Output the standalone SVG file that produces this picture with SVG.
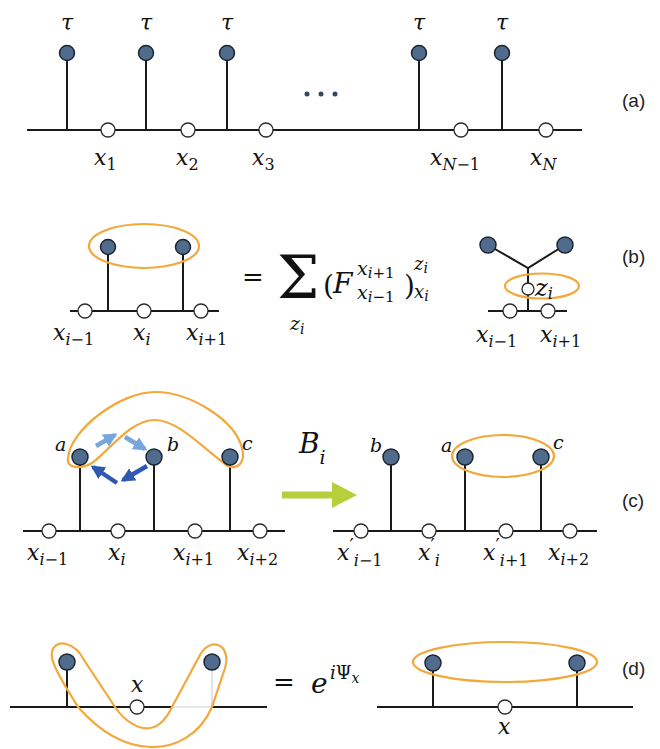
<svg xmlns="http://www.w3.org/2000/svg" width="660" height="749" viewBox="0 0 660 749">
<defs>
<style>
.m{font-family:"DejaVu Serif","Liberation Serif",serif;font-style:italic;font-size:22px;fill:#111}
.s{font-size:16px}
.u{font-style:normal}
.lab{font-family:"Liberation Sans",Arial,sans-serif;font-size:19px;fill:#222}
.ln{stroke:#1a1a1a;stroke-width:2;fill:none}
.lg{stroke:#d0d0d0;stroke-width:1.2;fill:none}
.fc{fill:#506b8c;stroke:#1c2633;stroke-width:1.5}
.oc{fill:#fff;stroke:#2a2a2a;stroke-width:1.3}
.or{fill:none;stroke:#f2a93b;stroke-width:2.2}
.al{stroke:#78a6dc;stroke-width:4.5;fill:none}
.ad{stroke:#2f58b3;stroke-width:4.5;fill:none}
</style>
<marker id="hl" viewBox="0 0 10 10" refX="8" refY="5" markerWidth="14" markerHeight="14" markerUnits="userSpaceOnUse" orient="auto"><path d="M0,0 L10,5 L0,10 z" fill="#78a6dc"/></marker>
<marker id="hd" viewBox="0 0 10 10" refX="8" refY="5" markerWidth="14" markerHeight="14" markerUnits="userSpaceOnUse" orient="auto"><path d="M0,0 L10,5 L0,10 z" fill="#2f58b3"/></marker>
</defs>
<rect width="660" height="749" fill="#fff"/>

<!-- Panel (a) -->
<g id="panel-a">
<path class="ln" d="M27,130 H582 M67,53 V130 M146,53 V130 M227,53 V130 M419,53 V130 M502,53 V130"/>
<g id="a-tau">
<circle class="fc" cx="67" cy="53" r="7.5"/><circle class="fc" cx="146" cy="53" r="7.5"/><circle class="fc" cx="227" cy="53" r="7.5"/><circle class="fc" cx="419" cy="53" r="7.5"/><circle class="fc" cx="502" cy="53" r="7.5"/>
</g>
<g id="a-x">
<circle class="oc" cx="108" cy="130" r="7"/><circle class="oc" cx="188" cy="130" r="7"/><circle class="oc" cx="266" cy="130" r="7"/><circle class="oc" cx="461" cy="130" r="7"/><circle class="oc" cx="546" cy="130" r="7"/>
</g>
<g fill="#34495e"><circle cx="307" cy="94" r="2.5"/><circle cx="321" cy="94" r="2.5"/><circle cx="335" cy="94" r="2.5"/></g>
<g text-anchor="middle">
<text class="m" x="67" y="30">τ</text><text class="m" x="146" y="30">τ</text><text class="m" x="227" y="30">τ</text><text class="m" x="419" y="30">τ</text><text class="m" x="502" y="30">τ</text>
</g>
<text class="m" x="94" y="165">x<tspan class="s u" dy="5">1</tspan></text>
<text class="m" x="176" y="165">x<tspan class="s u" dy="5">2</tspan></text>
<text class="m" x="252" y="165">x<tspan class="s u" dy="5">3</tspan></text>
<text class="m" x="430" y="165">x<tspan class="s" dy="5">N<tspan class="u">−1</tspan></tspan></text>
<text class="m" x="530" y="165">x<tspan class="s" dy="5">N</tspan></text>
<text class="lab" x="622" y="107">(a)</text>
</g>

<!-- Panel (b) -->
<g id="panel-b">
<g id="b-left">
<path class="ln" d="M70,311 H219 M108,247 V311 M183,247 V311"/>
<ellipse class="or" cx="144" cy="246" rx="55" ry="22"/>
<circle class="fc" cx="108" cy="247" r="7.5"/><circle class="fc" cx="183" cy="247" r="7.5"/>
<circle class="oc" cx="85" cy="311" r="7"/><circle class="oc" cx="144" cy="311" r="7"/><circle class="oc" cx="201" cy="311" r="7"/>
<text class="m" x="53" y="340">x<tspan class="s" dy="5">i<tspan class="u">−1</tspan></tspan></text>
<text class="m" x="133" y="340">x<tspan class="s" dy="5">i</tspan></text>
<text class="m" x="186" y="340">x<tspan class="s" dy="5">i<tspan class="u">+1</tspan></tspan></text>
</g>
<g id="b-eq">
<text class="m u" x="242" y="286" style="font-size:26px">=</text>
<text class="m u" x="277" y="298" style="font-size:60px">Σ</text>
<text class="m" x="290" y="330" style="font-size:19px">z<tspan style="font-size:14px" dy="4">i</tspan></text>
<text class="m u" x="323" y="295" style="font-size:28px">(</text>
<text class="m" x="333" y="293" style="font-size:28px">F</text>
<text class="m" x="357" y="275" style="font-size:19px">x<tspan style="font-size:15px" dy="3">i<tspan class="u">+1</tspan></tspan></text>
<text class="m" x="357" y="299" style="font-size:19px">x<tspan style="font-size:15px" dy="3">i<tspan class="u">−1</tspan></tspan></text>
<text class="m u" x="404" y="295" style="font-size:28px">)</text>
<text class="m" x="414" y="270" style="font-size:18px">z<tspan style="font-size:14px" dy="3">i</tspan></text>
<text class="m" x="414" y="298" style="font-size:18px">x<tspan style="font-size:14px" dy="3">i</tspan></text>
</g>
<g id="b-right">
<path class="ln" d="M488,245 L528,268 L565,245 M528,268 V311 M488,311 H567"/>
<circle class="fc" cx="488" cy="245" r="8"/><circle class="fc" cx="565" cy="245" r="8"/>
<circle class="oc" cx="510" cy="311" r="7"/><circle class="oc" cx="548" cy="311" r="7"/>
<circle class="oc" cx="528" cy="289" r="6"/>
<ellipse class="or" cx="542" cy="286" rx="37" ry="12.5"/>
<text class="m" x="535" y="296" style="font-size:24px">z<tspan style="font-size:16px" dy="3">i</tspan></text>
<text class="m" x="476" y="342">x<tspan class="s" dy="5">i<tspan class="u">−1</tspan></tspan></text>
<text class="m" x="540" y="342">x<tspan class="s" dy="5">i<tspan class="u">+1</tspan></tspan></text>
</g>
<text class="lab" x="622" y="263">(b)</text>
</g>

<!-- Panel (c) -->
<g id="panel-c">
<g id="c-left">
<path class="ln" d="M23,531 H285 M80,457 V531 M154,457 V531 M230,457 V531"/>
<path class="or" d="M68,458 C70,430 120,392 155,392 C190,392 235,420 242,448 C246,462 238,470 228,466 C210,455 180,420 155,420 C130,420 110,450 92,463 C80,470 66,468 68,458 Z"/>
<circle class="fc" cx="80" cy="457" r="8"/><circle class="fc" cx="154" cy="457" r="8"/><circle class="fc" cx="230" cy="457" r="8"/>
<circle class="oc" cx="49" cy="531" r="7"/><circle class="oc" cx="118" cy="531" r="7"/><circle class="oc" cx="195" cy="531" r="7"/><circle class="oc" cx="260" cy="531" r="7"/>
<text class="m" x="55" y="451" style="font-size:19px">a</text>
<text class="m" x="167" y="451" style="font-size:19px">b</text>
<text class="m" x="242" y="450" style="font-size:19px">c</text>
<text class="m" x="27" y="560">x<tspan class="s" dy="5">i<tspan class="u">−1</tspan></tspan></text>
<text class="m" x="108" y="560">x<tspan class="s" dy="5">i</tspan></text>
<text class="m" x="173" y="560">x<tspan class="s" dy="5">i<tspan class="u">+1</tspan></tspan></text>
<text class="m" x="237" y="560">x<tspan class="s" dy="5">i<tspan class="u">+2</tspan></tspan></text>
</g>
<g id="c-arrows">
<line class="al" x1="96" y1="446" x2="115" y2="435" marker-end="url(#hl)"/>
<line class="al" x1="125" y1="437" x2="145" y2="449" marker-end="url(#hl)"/>
<line class="ad" x1="147" y1="466" x2="123" y2="480" marker-end="url(#hd)"/>
<line class="ad" x1="117" y1="483" x2="93" y2="467" marker-end="url(#hd)"/>
</g>
<g id="c-op">
<text class="m" x="299" y="453" style="font-size:28px">B<tspan style="font-size:19px" dy="11">i</tspan></text>
<polygon fill="#b8cf3c" points="282,491.5 332,491.5 332,482 357,495 332,508 332,498.5 282,498.5"/>
</g>
<g id="c-right">
<path class="ln" d="M333,531 H597 M391,457 V531 M465,457 V531 M541,457 V531"/>
<ellipse class="or" cx="503" cy="456" rx="51" ry="21"/>
<circle class="fc" cx="391" cy="457" r="8"/><circle class="fc" cx="465" cy="457" r="8"/><circle class="fc" cx="541" cy="457" r="8"/>
<circle class="oc" cx="361" cy="531" r="7"/><circle class="oc" cx="429" cy="531" r="7"/><circle class="oc" cx="506" cy="531" r="7"/><circle class="oc" cx="570" cy="531" r="7"/>
<text class="m" x="370" y="452" style="font-size:19px">b</text>
<text class="m" x="441" y="452" style="font-size:19px">a</text>
<text class="m" x="553" y="449" style="font-size:19px">c</text>
<text class="m" x="337" y="560">x<tspan class="u" style="font-size:19px" dy="-8">′</tspan><tspan class="s" dy="14">i<tspan class="u">−1</tspan></tspan></text>
<text class="m" x="418" y="560">x<tspan class="u" style="font-size:19px" dy="-8">′</tspan><tspan class="s" dy="14">i</tspan></text>
<text class="m" x="483" y="560">x<tspan class="u" style="font-size:19px" dy="-8">′</tspan><tspan class="s" dy="14">i<tspan class="u">+1</tspan></tspan></text>
<text class="m" x="548" y="560">x<tspan class="s" dy="5">i<tspan class="u">+2</tspan></tspan></text>
</g>
<text class="lab" x="622" y="507">(c)</text>
</g>

<!-- Panel (d) -->
<g id="panel-d">
<g id="d-left">
<path class="lg" d="M172,707 H212 M212,662 V707"/>
<path class="ln" d="M10,707 H172 M212,707 H267 M67,662 V707"/>
<path class="or" d="M52,658 C50,645 60,642 66,644 C74,646 80,652 84,660 L115,707 C125,722 140,730 150,728 C160,727 168,716 172,707 L200,655 C205,646 212,643 218,645 C226,648 228,658 225,668 L212,707 C200,735 175,748 150,747 C125,746 100,732 78,707 C68,690 55,672 52,658 Z"/>
<circle class="fc" cx="67" cy="662" r="8"/><circle class="fc" cx="212" cy="662" r="8"/>
<circle class="oc" cx="137" cy="707" r="7"/>
<text class="m" x="131" y="692">x</text>
</g>
<g id="d-eq">
<text class="m u" x="273" y="691" style="font-size:26px">=</text>
<text class="m" x="311" y="693" style="font-size:28px">e</text>
<text class="m" x="330" y="679" style="font-size:18px">i<tspan class="u">Ψ</tspan><tspan style="font-size:14px" dy="4">x</tspan></text>
</g>
<g id="d-right">
<path class="ln" d="M377,707 H633 M433,663 V707 M577,663 V707"/>
<ellipse class="or" cx="505" cy="662" rx="92" ry="20"/>
<circle class="fc" cx="433" cy="663" r="8"/><circle class="fc" cx="577" cy="663" r="8"/>
<circle class="oc" cx="505" cy="707" r="7"/>
<text class="m" x="498" y="734">x</text>
</g>
<text class="lab" x="622" y="675">(d)</text>
</g>
</svg>
